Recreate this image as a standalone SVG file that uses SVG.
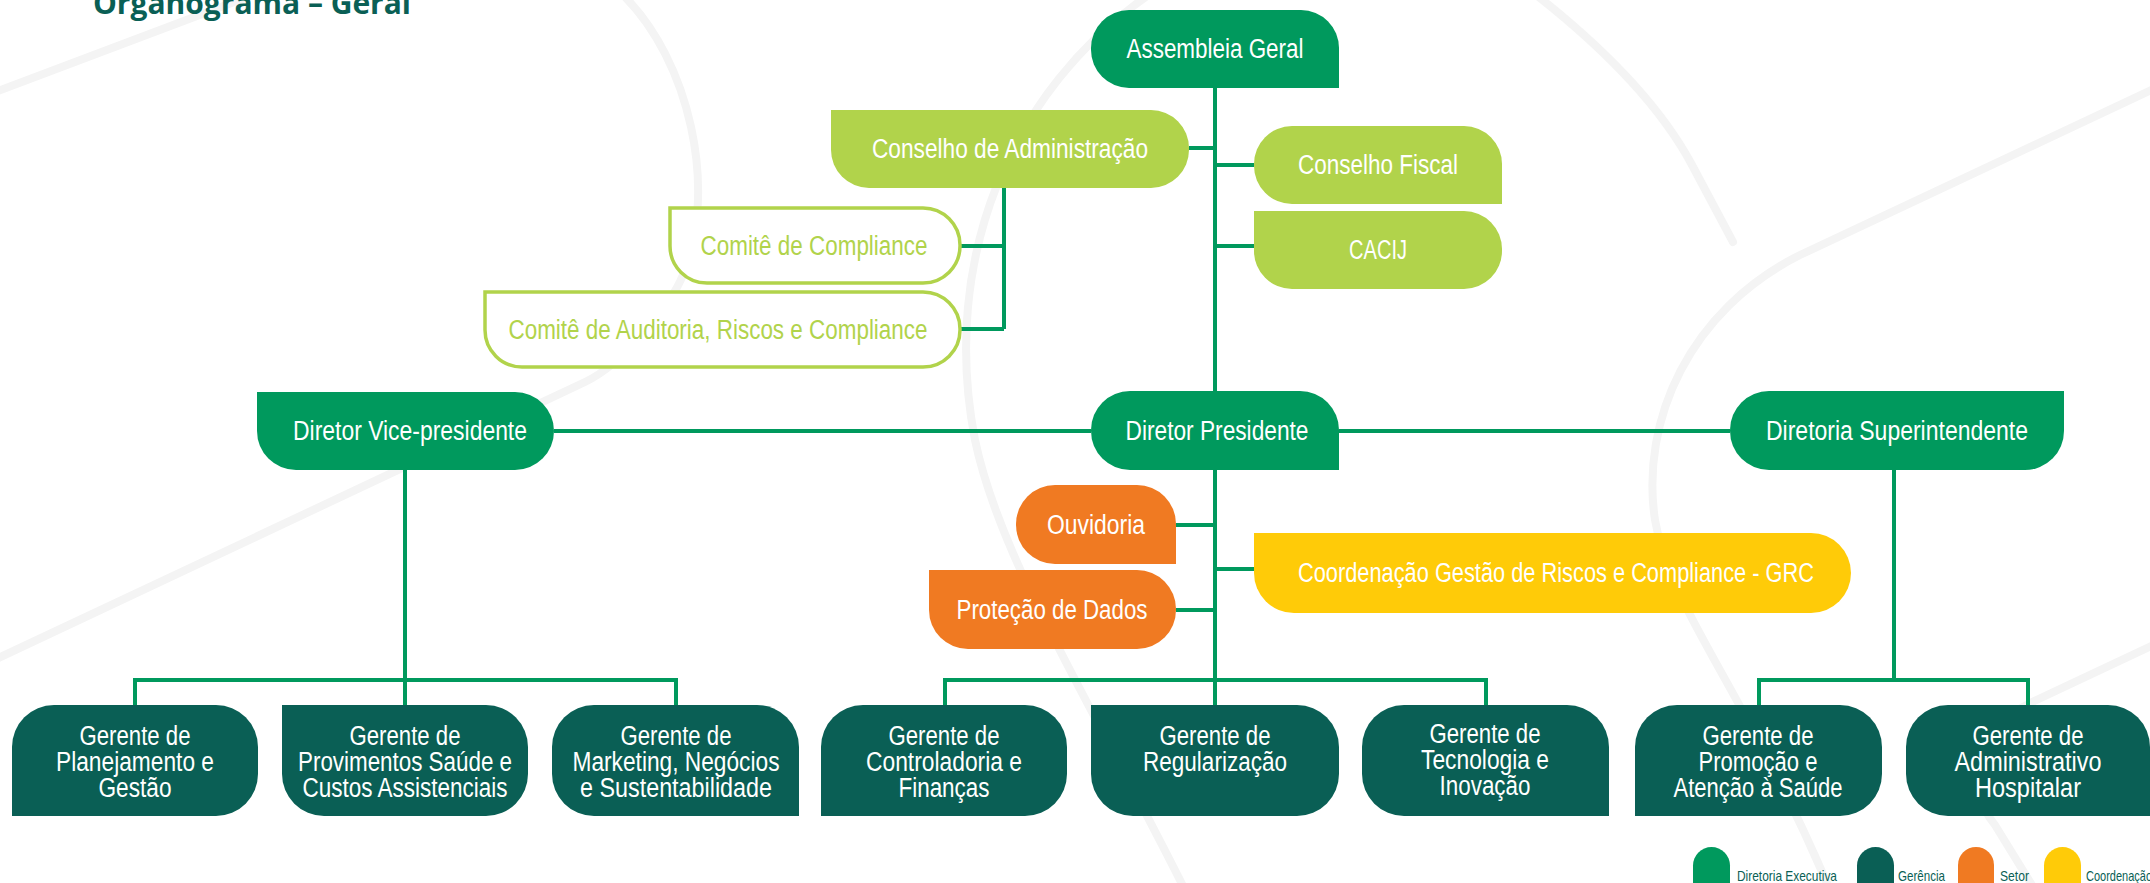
<svg xmlns="http://www.w3.org/2000/svg" width="2150" height="883" viewBox="0 0 2150 883">
<style>
.bg{fill:none;stroke:#f4f4f4;stroke-width:8;stroke-linecap:round}
.ln{fill:none;stroke:#00995d;stroke-width:4}
.ex{fill:#00995d}
.co{fill:#b1d34b}
.cm{fill:#fff;stroke:#b1d34b;stroke-width:3.5}
.ge{fill:#0a5f55}
.se{fill:#f07a22}
.cd{fill:#ffcb08}
text{font-family:"Liberation Sans Narrow","Liberation Sans",Arial,sans-serif;font-size:27px;text-anchor:middle}
.t{fill:#fff}
.tc{fill:#b1d34b}
.lg{fill:#0a5f55;font-size:14.5px;text-anchor:start}
.title{fill:#0a5f55;font-family:"Open Sans","Liberation Sans",sans-serif;font-weight:700;font-size:30px;text-anchor:start}
</style>
<rect width="2150" height="883" fill="#fff"/>
<g id="background">
<path class="bg" d="M-10,94 L250,-4"/>
<path class="bg" d="M622,-6 C690,60 718,190 683,275 C671,304 625,363 585,382 L-10,662"/>
<path class="bg" d="M1150,-6 C1010,90 940,260 975,440 C1000,560 1090,700 1185,890"/>
<path class="bg" d="M1535,-6 C1600,45 1660,105 1692,165 L1733,242"/>
<path class="bg" d="M2160,86 L1800,255 C1690,310 1640,420 1655,520 C1670,610 1740,680 1830,890"/>
<path class="bg" d="M2160,642 L2030,703 C1975,730 1965,790 1995,825 L2035,890"/>
</g>
<text class="title" x="93" y="14" textLength="318" lengthAdjust="spacingAndGlyphs">Organograma – Geral</text>
<g id="connectors">
<path class="ln" d="M1215,88 V705"/>
<path class="ln" d="M1189,148 H1215"/>
<path class="ln" d="M1215,165 H1254"/>
<path class="ln" d="M1215,246 H1254"/>
<path class="ln" d="M1004,188 V329"/>
<path class="ln" d="M960,246 H1004"/>
<path class="ln" d="M960,329 H1004"/>
<path class="ln" d="M554,431 H1091"/>
<path class="ln" d="M1339,431 H1730"/>
<path class="ln" d="M405,470 V705"/>
<path class="ln" d="M135,705 V680 H676 V705"/>
<path class="ln" d="M1176,525 H1215"/>
<path class="ln" d="M1215,569 H1254"/>
<path class="ln" d="M1176,610 H1215"/>
<path class="ln" d="M945,705 V680 H1486 V705"/>
<path class="ln" d="M1894,470 V680"/>
<path class="ln" d="M1759,705 V680 H2028 V705"/>
</g>
<g id="assembleia-geral">
<path class="ex" d="M1129,10 H1301 A38,38 0 0 1 1339,48 V88 H1129 A38,38 0 0 1 1091,50 V48 A38,38 0 0 1 1129,10 Z"/>
<text class="t" x="1215" y="58" textLength="177" lengthAdjust="spacingAndGlyphs">Assembleia Geral</text>
</g>
<g id="conselho-administracao">
<path class="co" d="M831,110 H1151 A38,38 0 0 1 1189,148 V150 A38,38 0 0 1 1151,188 H869 A38,38 0 0 1 831,150 Z"/>
<text class="t" x="1010" y="158" textLength="276" lengthAdjust="spacingAndGlyphs">Conselho de Administração</text>
</g>
<g id="conselho-fiscal">
<path class="co" d="M1292,126 H1464 A38,38 0 0 1 1502,164 V204 H1292 A38,38 0 0 1 1254,166 V164 A38,38 0 0 1 1292,126 Z"/>
<text class="t" x="1378" y="174" textLength="160" lengthAdjust="spacingAndGlyphs">Conselho Fiscal</text>
</g>
<g id="cacij">
<path class="co" d="M1254,211 H1464 A38,38 0 0 1 1502,249 V251 A38,38 0 0 1 1464,289 H1292 A38,38 0 0 1 1254,251 Z"/>
<text class="t" x="1378" y="259" textLength="58" lengthAdjust="spacingAndGlyphs">CACIJ</text>
</g>
<g id="comite-compliance">
<path class="cm" d="M670,208 H923 A37,37 0 0 1 960,245 V246 A37,37 0 0 1 923,283 H707 A37,37 0 0 1 670,246 Z"/>
<text class="tc" x="814" y="255" textLength="227" lengthAdjust="spacingAndGlyphs">Comitê de Compliance</text>
</g>
<g id="comite-auditoria">
<path class="cm" d="M485,292 H923 A37,37 0 0 1 960,329 V330 A37,37 0 0 1 923,367 H522 A37,37 0 0 1 485,330 Z"/>
<text class="tc" x="718" y="339" textLength="419" lengthAdjust="spacingAndGlyphs">Comitê de Auditoria, Riscos e Compliance</text>
</g>
<g id="diretor-presidente">
<path class="ex" d="M1130,391 H1300 A39,39 0 0 1 1339,430 V470 H1130 A39,39 0 0 1 1091,431 V430 A39,39 0 0 1 1130,391 Z"/>
<text class="t" x="1217" y="440" textLength="183" lengthAdjust="spacingAndGlyphs">Diretor Presidente</text>
</g>
<g id="diretor-vice-presidente">
<path class="ex" d="M257,392 H515 A39,39 0 0 1 554,431 A39,39 0 0 1 515,470 H296 A39,39 0 0 1 257,431 Z"/>
<text class="t" x="410" y="440" textLength="234" lengthAdjust="spacingAndGlyphs">Diretor Vice-presidente</text>
</g>
<g id="diretoria-superintendente">
<path class="ex" d="M1769,391 H2064 V431 A39,39 0 0 1 2025,470 H1769 A39,39 0 0 1 1730,431 V430 A39,39 0 0 1 1769,391 Z"/>
<text class="t" x="1897" y="440" textLength="262" lengthAdjust="spacingAndGlyphs">Diretoria Superintendente</text>
</g>
<g id="ouvidoria">
<path class="se" d="M1055,485 H1137 A39,39 0 0 1 1176,524 V564 H1055 A39,39 0 0 1 1016,525 V524 A39,39 0 0 1 1055,485 Z"/>
<text class="t" x="1096" y="534" textLength="98" lengthAdjust="spacingAndGlyphs">Ouvidoria</text>
</g>
<g id="protecao-dados">
<path class="se" d="M929,570 H1137 A39,39 0 0 1 1176,609 V610 A39,39 0 0 1 1137,649 H968 A39,39 0 0 1 929,610 Z"/>
<text class="t" x="1052" y="619" textLength="191" lengthAdjust="spacingAndGlyphs">Proteção de Dados</text>
</g>
<g id="coordenacao-grc">
<path class="cd" d="M1254,533 H1811 A40,40 0 0 1 1851,573 A40,40 0 0 1 1811,613 H1294 A40,40 0 0 1 1254,573 Z"/>
<text class="t" x="1556" y="582" textLength="516" lengthAdjust="spacingAndGlyphs">Coordenação Gestão de Riscos e Compliance - GRC</text>
</g>
<g id="gerente-planejamento">
<path class="ge" d="M54,705 H216 A42,42 0 0 1 258,747 V774 A42,42 0 0 1 216,816 H12 V747 A42,42 0 0 1 54,705 Z"/>
<text class="t" x="135" y="745" textLength="111" lengthAdjust="spacingAndGlyphs">Gerente de</text>
<text class="t" x="135" y="771" textLength="158" lengthAdjust="spacingAndGlyphs">Planejamento e</text>
<text class="t" x="135" y="797" textLength="73" lengthAdjust="spacingAndGlyphs">Gestão</text>
</g>
<g id="gerente-provimentos">
<path class="ge" d="M282,705 H486 A42,42 0 0 1 528,747 V774 A42,42 0 0 1 486,816 H324 A42,42 0 0 1 282,774 Z"/>
<text class="t" x="405" y="745" textLength="111" lengthAdjust="spacingAndGlyphs">Gerente de</text>
<text class="t" x="405" y="771" textLength="214" lengthAdjust="spacingAndGlyphs">Provimentos Saúde e</text>
<text class="t" x="405" y="797" textLength="205" lengthAdjust="spacingAndGlyphs">Custos Assistenciais</text>
</g>
<g id="gerente-marketing">
<path class="ge" d="M594,705 H757 A42,42 0 0 1 799,747 V816 H594 A42,42 0 0 1 552,774 V747 A42,42 0 0 1 594,705 Z"/>
<text class="t" x="676" y="745" textLength="111" lengthAdjust="spacingAndGlyphs">Gerente de</text>
<text class="t" x="676" y="771" textLength="207" lengthAdjust="spacingAndGlyphs">Marketing, Negócios</text>
<text class="t" x="676" y="797" textLength="192" lengthAdjust="spacingAndGlyphs">e Sustentabilidade</text>
</g>
<g id="gerente-controladoria">
<path class="ge" d="M863,705 H1025 A42,42 0 0 1 1067,747 V774 A42,42 0 0 1 1025,816 H821 V747 A42,42 0 0 1 863,705 Z"/>
<text class="t" x="944" y="745" textLength="111" lengthAdjust="spacingAndGlyphs">Gerente de</text>
<text class="t" x="944" y="771" textLength="156" lengthAdjust="spacingAndGlyphs">Controladoria e</text>
<text class="t" x="944" y="797" textLength="91" lengthAdjust="spacingAndGlyphs">Finanças</text>
</g>
<g id="gerente-regularizacao">
<path class="ge" d="M1091,705 H1297 A42,42 0 0 1 1339,747 V774 A42,42 0 0 1 1297,816 H1133 A42,42 0 0 1 1091,774 Z"/>
<text class="t" x="1215" y="745" textLength="111" lengthAdjust="spacingAndGlyphs">Gerente de</text>
<text class="t" x="1215" y="771" textLength="144" lengthAdjust="spacingAndGlyphs">Regularização</text>
</g>
<g id="gerente-tecnologia">
<path class="ge" d="M1404,705 H1567 A42,42 0 0 1 1609,747 V816 H1404 A42,42 0 0 1 1362,774 V747 A42,42 0 0 1 1404,705 Z"/>
<text class="t" x="1485" y="743" textLength="111" lengthAdjust="spacingAndGlyphs">Gerente de</text>
<text class="t" x="1485" y="769" textLength="128" lengthAdjust="spacingAndGlyphs">Tecnologia e</text>
<text class="t" x="1485" y="795" textLength="91" lengthAdjust="spacingAndGlyphs">Inovação</text>
</g>
<g id="gerente-promocao">
<path class="ge" d="M1677,705 H1840 A42,42 0 0 1 1882,747 V774 A42,42 0 0 1 1840,816 H1635 V747 A42,42 0 0 1 1677,705 Z"/>
<text class="t" x="1758" y="745" textLength="111" lengthAdjust="spacingAndGlyphs">Gerente de</text>
<text class="t" x="1758" y="771" textLength="119" lengthAdjust="spacingAndGlyphs">Promoção e</text>
<text class="t" x="1758" y="797" textLength="169" lengthAdjust="spacingAndGlyphs">Atenção à Saúde</text>
</g>
<g id="gerente-administrativo">
<path class="ge" d="M1948,705 H2108 A42,42 0 0 1 2150,747 V816 H1948 A42,42 0 0 1 1906,774 V747 A42,42 0 0 1 1948,705 Z"/>
<text class="t" x="2028" y="745" textLength="111" lengthAdjust="spacingAndGlyphs">Gerente de</text>
<text class="t" x="2028" y="771" textLength="147" lengthAdjust="spacingAndGlyphs">Administrativo</text>
<text class="t" x="2028" y="797" textLength="106" lengthAdjust="spacingAndGlyphs">Hospitalar</text>
</g>
<g id="legend">
<rect class="ex" x="1693" y="847" width="37" height="60" rx="18.5"/>
<text class="lg" x="1737" y="881" textLength="100" lengthAdjust="spacingAndGlyphs">Diretoria Executiva</text>
<rect class="ge" x="1857" y="847" width="37" height="60" rx="18.5"/>
<text class="lg" x="1898" y="881" textLength="47" lengthAdjust="spacingAndGlyphs">Gerência</text>
<rect class="se" x="1958" y="847" width="36" height="60" rx="18"/>
<text class="lg" x="2000" y="881" textLength="29" lengthAdjust="spacingAndGlyphs">Setor</text>
<rect class="cd" x="2044" y="847" width="37" height="60" rx="18.5"/>
<text class="lg" x="2086" y="881" textLength="66" lengthAdjust="spacingAndGlyphs">Coordenação</text>
</g>
</svg>
